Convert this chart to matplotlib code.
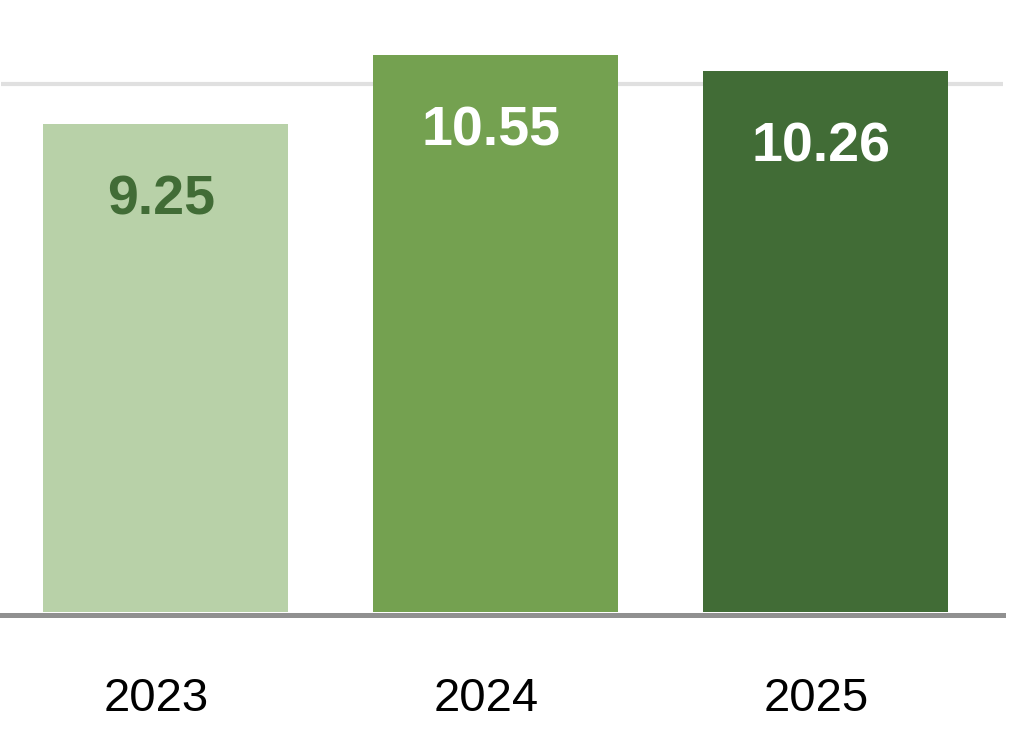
import matplotlib
matplotlib.use('Agg')
import matplotlib.pyplot as plt
import matplotlib.transforms as mtransforms

# Data
years = ['2023', '2024', '2025']
values = [9.25, 10.55, 10.26]
bar_colors = ['#b8d1a8', '#74a150', '#416c36']
label_colors = ['#416c36', '#ffffff', '#ffffff']

plt.rcParams['font.family'] = ['Liberation Sans', 'DejaVu Sans']

fig = plt.figure(figsize=(10.32, 7.44), dpi=100)
ax = fig.add_axes([1 / 1032, 132 / 744, 1002 / 1032, 612 / 744])

x = list(range(len(years)))
ax.bar(x, values, width=0.742, color=bar_colors, zorder=3)

# value labels inside the bars
for xi, v, c in zip(x, values, label_colors):
    ax.annotate(f'{v:.2f}', (xi, v), xytext=(-3, -55), textcoords='offset points',
                ha='center', va='center', fontsize=40, fontweight='bold', color=c, zorder=4)

ax.set_xlim(-0.4985, 2.538)
ax.set_ylim(0, 11.6)

# light gridline at 10
ax.axhline(10, color='#e0e0e0', linewidth=3, zorder=1)

for s in ['top', 'right', 'left']:
    ax.spines[s].set_visible(False)
ax.spines['bottom'].set_color('#909090')
ax.spines['bottom'].set_linewidth(3.6)
ax.spines['bottom'].set_position(('outward', 2.5))
ax.spines['bottom'].set_zorder(5)

ax.set_yticks([])
ax.set_xticks(x)
ax.set_xticklabels(years, fontsize=34, color='#000000')
ax.tick_params(axis='x', length=0, pad=44)
shift = mtransforms.ScaledTranslation(-9 / 100, 0, fig.dpi_scale_trans)
for lbl in ax.get_xticklabels():
    lbl.set_transform(lbl.get_transform() + shift)

fig.savefig('out.png', dpi=100)
